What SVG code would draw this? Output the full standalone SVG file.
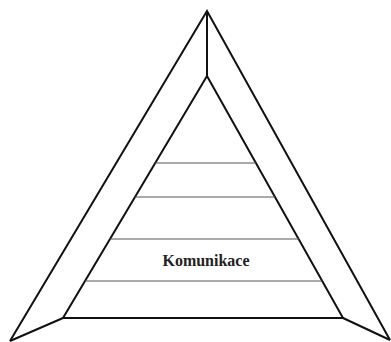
<svg xmlns="http://www.w3.org/2000/svg" width="391" height="342" viewBox="0 0 391 342">
<style>
.o{fill:none;stroke:#111;stroke-width:2;stroke-linejoin:miter}
.t{stroke:#555;stroke-width:1}
.l{font-family:"Liberation Serif",serif;font-weight:bold;font-size:16px;fill:#222;text-anchor:middle}
</style>
<rect width="391" height="342" fill="#fff"/>
<g id="outer">
<polyline class="o" points="10,341 207,11 390,340"/>
</g>
<g id="inner">
<polygon class="o" points="207,76 63,318 343,318"/>
</g>
<g id="connectors">
<line class="o" x1="207" y1="11" x2="207" y2="76"/>
<line class="o" x1="10" y1="341" x2="63" y2="318"/>
<line class="o" x1="390" y1="340" x2="343" y2="318"/>
<line class="t" x1="155" y1="163" x2="256" y2="163"/>
<line class="t" x1="135" y1="197" x2="275" y2="197"/>
<line class="t" x1="110" y1="239" x2="299" y2="239"/>
<line class="t" x1="85" y1="281" x2="322" y2="281"/>
</g>
<g id="label">
<text class="l" x="206" y="266">Komunikace</text>
</g>
</svg>
